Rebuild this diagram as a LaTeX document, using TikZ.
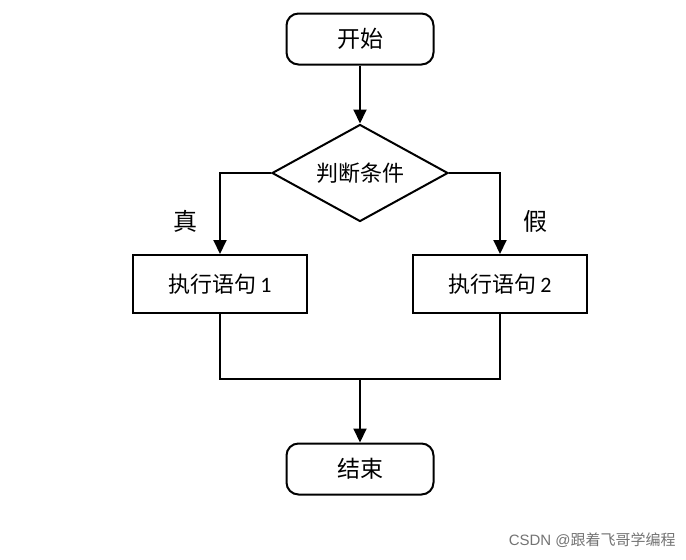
\documentclass[tikz,border=0pt]{standalone}
\usepackage{fontspec}
\newfontfamily\cjk{Noto Sans CJK SC}
\newfontfamily\lat{Carlito}
\usetikzlibrary{shapes.geometric,arrows.meta}
\begin{document}
\begin{tikzpicture}[x=1pt,y=-1pt,
  line width=2pt,
  term/.style={draw,rounded corners=12pt,minimum width=147pt,minimum height=51pt,font=\cjk\fontsize{23}{26}\selectfont},
  proc/.style={draw,minimum width=174pt,minimum height=58pt,font=\cjk\fontsize{22}{26}\selectfont},
  cond/.style={draw,diamond,aspect=1.8,minimum width=176pt,minimum height=97pt,inner sep=0pt},
  arr/.style={-{Triangle[width=13pt,length=14pt]}},
  lbl/.style={font=\cjk\fontsize{24}{28}\selectfont}]
\useasboundingbox (0,0) rectangle (686,560);
\node[term] (start) at (360,39) {开始};
\node[cond] (dec) at (360,173) {};
\node[font=\cjk\fontsize{22}{26}\selectfont] (dectxt) at (360,173) {判断条件};
\node[proc] (p1) at (220,284) {执行语句\,{\lat 1}};
\node[proc] (p2) at (500,284) {执行语句\,{\lat 2}};
\node[term] (end) at (360,469) {结束};
\coordinate (m1) at (220,379);
\coordinate (m2) at (500,379);
\coordinate (mc) at (360,379);
\draw[arr] (start.south) -- (dec.north);
\draw[arr] (dec.west) -| (p1.north);
\draw[arr] (dec.east) -| (p2.north);
\draw (p1.south) -- (m1) -- (m2) -- (p2.south);
\draw[arr] (mc) -- (end.north);
\node[lbl] (t) at (185,221) {真};
\node[lbl] (f) at (535,221) {假};
\node[font=\cjk\fontsize{15}{18}\selectfont, text=black!55, anchor=east] (wm) at (680,540) {{\fontspec{Liberation Sans}CSDN @}跟着飞哥学编程};
\end{tikzpicture}
\end{document}
